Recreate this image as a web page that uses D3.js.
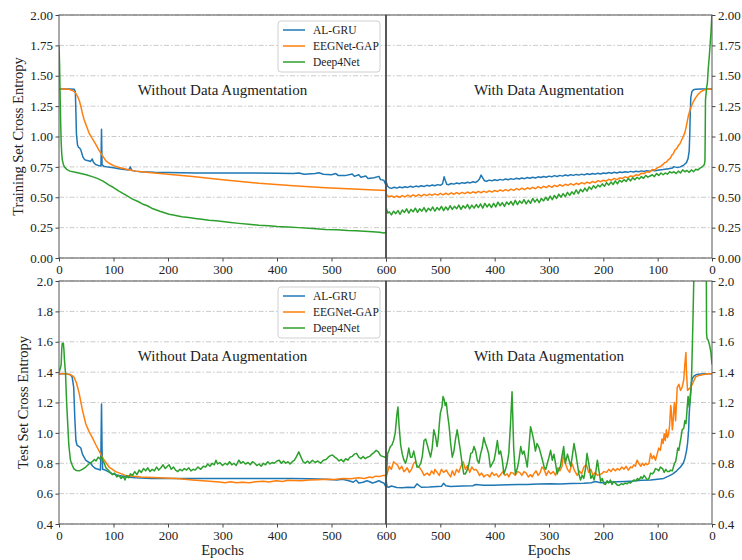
<!DOCTYPE html>
<html>
<head>
<meta charset="utf-8">
<script src="https://cdn.jsdelivr.net/npm/d3@7"></script>
<style>
  body { margin: 0; background: #fff; }
  svg text { font-family: "Liberation Serif", "Times New Roman", serif; fill: #222; }
</style>
</head>
<body>
<div id="chart"></div>
<script>
// series names and colours
const seriesNames = ["AL-GRU", "EEGNet-GAP", "Deep4Net"];
const seriesColors = ["#1f77b4", "#ff7f0e", "#2ca02c"];

// training loss, without augmentation  [epoch, value]
const trainNoAugGRU = [[0,1.39],[10,1.39],[20,1.39],[28,1.388],[30,1.37],[31,1.2],[32,1.02],[34,0.93],[36,0.91],[38,0.905],[40,0.89],[42,0.86],[44,0.83],[47,0.81],[50,0.805],[54,0.80],[58,0.795],[61,0.815],[63,0.79],[67,0.77],[72,0.762],[77,0.758],[78,1.06],[79,0.77],[82,0.755],[90,0.748],[100,0.742],[110,0.735],[120,0.728],[128,0.725],[131,0.75],[133,0.722],[140,0.715],[150,0.71],[175,0.705],[200,0.703],[250,0.70],[300,0.70],[350,0.699],[400,0.698],[430,0.695],[440,0.70],[450,0.69],[470,0.695],[477,0.702],[485,0.69],[500,0.686],[508,0.695],[512,0.68],[525,0.678],[538,0.692],[542,0.672],[550,0.685],[554,0.665],[563,0.675],[567,0.655],[578,0.66],[587,0.672],[590,0.645],[596,0.64],[600,0.60]];
const trainNoAugEEG = [[0,1.39],[10,1.39],[18,1.388],[22,1.383],[26,1.375],[30,1.36],[34,1.33],[37,1.30],[40,1.25],[43,1.19],[46,1.14],[50,1.09],[55,1.03],[60,0.99],[67,0.94],[73,0.89],[80,0.84],[86,0.80],[92,0.78],[100,0.76],[110,0.745],[120,0.735],[130,0.725],[141,0.715],[160,0.705],[200,0.69],[245,0.67],[300,0.645],[367,0.615],[430,0.595],[489,0.578],[550,0.565],[600,0.555]];
const trainNoAugD4 = [[0,1.75],[1,1.60],[2,1.35],[3,1.12],[4,0.95],[5,0.86],[6,0.81],[8,0.77],[10,0.75],[14,0.73],[20,0.715],[30,0.705],[40,0.695],[50,0.685],[61,0.67],[70,0.655],[80,0.635],[92,0.60],[100,0.58],[110,0.55],[122,0.52],[135,0.485],[145,0.465],[153,0.445],[162,0.43],[170,0.41],[185,0.385],[195,0.37],[202,0.36],[212,0.352],[225,0.34],[238,0.333],[250,0.325],[262,0.318],[275,0.31],[288,0.307],[300,0.30],[315,0.292],[330,0.285],[348,0.278],[367,0.27],[385,0.266],[400,0.26],[420,0.256],[440,0.25],[465,0.243],[489,0.235],[510,0.232],[530,0.226],[545,0.224],[560,0.22],[575,0.216],[588,0.212],[596,0.205],[600,0.21]];

// training loss, with augmentation
const trainAugGRU = [[0,1.39],[10,1.39],[20,1.39],[30,1.389],[34,1.385],[37,1.37],[39,1.32],[40,1.2],[41,1.0],[42,0.88],[44,0.82],[47,0.785],[52,0.765],[56,0.755],[59,0.75],[63,0.745],[67,0.748],[70,0.752],[73,0.74],[80,0.735],[90,0.728],[100,0.723],[105,0.718],[110,0.722],[115,0.715],[120,0.719],[125,0.712],[130,0.717],[135,0.71],[140,0.714],[145,0.708],[150,0.713],[155,0.705],[160,0.71],[165,0.703],[170,0.708],[175,0.70],[180,0.706],[185,0.698],[190,0.704],[195,0.695],[200,0.70],[205,0.692],[210,0.698],[215,0.69],[220,0.695],[225,0.687],[230,0.693],[235,0.684],[240,0.69],[245,0.682],[250,0.688],[255,0.68],[260,0.686],[265,0.677],[270,0.683],[275,0.674],[280,0.68],[285,0.671],[290,0.678],[295,0.668],[300,0.674],[305,0.665],[310,0.671],[315,0.662],[320,0.668],[325,0.659],[330,0.665],[335,0.656],[340,0.662],[345,0.653],[350,0.659],[355,0.65],[360,0.656],[365,0.647],[370,0.653],[375,0.644],[380,0.65],[385,0.641],[390,0.647],[395,0.638],[400,0.644],[405,0.635],[410,0.641],[415,0.632],[419,0.636],[422,0.66],[425,0.682],[428,0.65],[432,0.63],[435,0.622],[440,0.628],[445,0.618],[450,0.624],[455,0.615],[460,0.62],[465,0.611],[470,0.617],[475,0.608],[480,0.613],[485,0.603],[488,0.606],[491,0.64],[493,0.668],[496,0.61],[500,0.598],[505,0.604],[510,0.595],[515,0.601],[520,0.592],[525,0.598],[530,0.589],[535,0.595],[540,0.586],[545,0.592],[550,0.583],[555,0.59],[560,0.581],[565,0.587],[570,0.578],[575,0.584],[580,0.575],[585,0.582],[590,0.573],[594,0.578],[597,0.59],[600,0.63]];
const trainAugEEG = [[0,1.39],[8,1.388],[14,1.385],[20,1.37],[25,1.35],[30,1.32],[34,1.29],[38,1.25],[41,1.21],[44,1.16],[47,1.09],[50,1.03],[54,0.99],[59,0.94],[62,0.925],[65,0.90],[68,0.89],[71,0.86],[74,0.845],[77,0.82],[80,0.81],[84,0.79],[87,0.785],[90,0.77],[96,0.75],[100,0.745],[105,0.725],[110,0.728],[115,0.705],[120,0.71],[125,0.695],[130,0.698],[135,0.68],[140,0.685],[145,0.67],[150,0.675],[155,0.66],[160,0.668],[165,0.655],[170,0.66],[175,0.645],[180,0.655],[185,0.64],[190,0.648],[195,0.632],[200,0.64],[205,0.628],[210,0.637],[215,0.62],[220,0.63],[225,0.615],[230,0.625],[235,0.61],[240,0.62],[245,0.605],[250,0.615],[255,0.60],[260,0.612],[265,0.598],[270,0.607],[275,0.592],[280,0.603],[285,0.588],[290,0.598],[295,0.582],[300,0.595],[305,0.58],[310,0.59],[315,0.575],[320,0.587],[325,0.57],[330,0.582],[335,0.568],[340,0.578],[345,0.562],[350,0.575],[355,0.56],[360,0.572],[365,0.556],[370,0.567],[375,0.553],[380,0.563],[385,0.55],[390,0.56],[395,0.547],[400,0.556],[405,0.543],[410,0.553],[415,0.54],[420,0.55],[425,0.537],[430,0.548],[435,0.535],[440,0.545],[445,0.532],[450,0.543],[455,0.53],[460,0.54],[465,0.527],[470,0.538],[475,0.525],[480,0.536],[485,0.522],[490,0.533],[495,0.52],[500,0.532],[505,0.518],[510,0.528],[515,0.517],[520,0.526],[525,0.513],[530,0.524],[535,0.51],[540,0.522],[545,0.508],[550,0.52],[555,0.505],[560,0.517],[565,0.503],[570,0.514],[575,0.50],[580,0.512],[585,0.50],[590,0.51],[595,0.505],[600,0.525]];
const trainAugD4 = [[0,2.02],[2,1.85],[4,1.72],[5,1.66],[7,1.55],[8.5,1.44],[10,1.40],[12,1.30],[12.5,1.0],[13,0.80],[14,0.77],[18,0.75],[22,0.74],[26,0.725],[30,0.73],[34,0.71],[38,0.725],[42,0.705],[46,0.72],[50,0.71],[54,0.725],[58,0.70],[62,0.715],[66,0.695],[70,0.71],[74,0.70],[78,0.71],[82,0.69],[86,0.70],[90,0.685],[94,0.70],[98,0.68],[102,0.695],[106,0.67],[110,0.685],[114,0.675],[118,0.665],[122,0.68],[126,0.655],[130,0.67],[134,0.65],[138,0.665],[142,0.645],[146,0.66],[150,0.635],[154,0.655],[158,0.63],[162,0.645],[166,0.625],[170,0.64],[174,0.61],[178,0.635],[182,0.605],[186,0.625],[190,0.60],[194,0.62],[198,0.59],[202,0.61],[206,0.585],[210,0.60],[214,0.575],[218,0.595],[222,0.565],[226,0.585],[230,0.55],[234,0.575],[238,0.545],[242,0.565],[246,0.53],[250,0.56],[254,0.525],[258,0.545],[262,0.515],[266,0.54],[270,0.505],[274,0.53],[278,0.50],[282,0.525],[286,0.49],[290,0.515],[294,0.48],[298,0.51],[302,0.475],[306,0.50],[310,0.47],[314,0.49],[318,0.455],[322,0.485],[326,0.46],[330,0.49],[334,0.45],[338,0.475],[342,0.445],[346,0.48],[350,0.45],[354,0.47],[358,0.44],[362,0.475],[366,0.435],[370,0.465],[374,0.44],[378,0.46],[382,0.425],[386,0.455],[390,0.43],[394,0.46],[398,0.42],[402,0.45],[406,0.415],[410,0.445],[414,0.42],[418,0.45],[422,0.41],[426,0.445],[430,0.415],[434,0.44],[438,0.41],[442,0.435],[446,0.405],[450,0.44],[454,0.41],[458,0.43],[462,0.40],[466,0.435],[470,0.405],[474,0.425],[478,0.40],[482,0.43],[486,0.395],[490,0.42],[494,0.39],[498,0.425],[502,0.395],[506,0.415],[510,0.385],[514,0.42],[518,0.39],[522,0.41],[526,0.38],[530,0.415],[534,0.385],[538,0.405],[542,0.375],[546,0.41],[550,0.38],[554,0.40],[558,0.37],[562,0.405],[566,0.375],[570,0.395],[574,0.36],[578,0.39],[582,0.365],[586,0.385],[590,0.355],[594,0.38],[597,0.37],[600,0.42]];

// test loss, without augmentation
const testNoAugGRU = [[0,1.39],[10,1.39],[20,1.385],[24,1.37],[27,1.30],[29,1.10],[31,0.95],[33,0.92],[37,0.91],[40,0.90],[43,0.86],[46,0.84],[49,0.82],[53,0.81],[58,0.80],[62,0.78],[67,0.765],[72,0.76],[76,0.755],[77,0.90],[78,1.19],[79,0.90],[80,0.76],[85,0.755],[90,0.745],[98,0.73],[110,0.72],[125,0.71],[140,0.705],[170,0.70],[200,0.70],[250,0.70],[300,0.70],[350,0.70],[400,0.70],[428,0.70],[460,0.698],[489,0.695],[510,0.69],[520,0.695],[532,0.685],[540,0.675],[545,0.69],[550,0.67],[558,0.675],[565,0.685],[569,0.68],[575,0.67],[580,0.675],[587,0.685],[592,0.675],[596,0.67],[600,0.645]];
const testNoAugEEG = [[0,1.39],[10,1.39],[20,1.385],[27,1.37],[32,1.33],[37,1.26],[43,1.15],[49,1.06],[55,1.01],[61,0.97],[67,0.925],[73,0.885],[78,0.85],[83,0.82],[92,0.775],[104,0.745],[122,0.72],[150,0.71],[183,0.705],[215,0.70],[245,0.69],[270,0.683],[294,0.676],[305,0.672],[315,0.678],[325,0.672],[336,0.675],[350,0.672],[360,0.678],[375,0.682],[385,0.676],[398,0.685],[410,0.68],[420,0.688],[430,0.687],[445,0.685],[459,0.69],[475,0.692],[490,0.695],[505,0.693],[520,0.70],[535,0.698],[550,0.705],[560,0.70],[570,0.71],[575,0.705],[581,0.715],[588,0.712],[595,0.72],[600,0.72]];
const testNoAugD4 = [[0,1.40],[2,1.42],[4,1.45],[5,1.55],[6,1.59],[7,1.58],[8,1.59],[9,1.55],[10,1.48],[12,1.39],[14,1.20],[16,1.06],[18,0.92],[21,0.82],[24,0.79],[27,0.765],[32,0.752],[37,0.75],[43,0.76],[49,0.775],[55,0.795],[61,0.81],[65,0.825],[68,0.815],[72,0.84],[75,0.83],[78,0.845],[80,0.82],[83,0.80],[86,0.77],[90,0.755],[94,0.74],[98,0.725],[102,0.735],[106,0.71],[110,0.72],[114,0.70],[118,0.715],[121,0.69],[124,0.72],[128,0.705],[131,0.73],[135,0.72],[139,0.745],[143,0.725],[147,0.755],[151,0.74],[155,0.765],[159,0.75],[163,0.77],[167,0.745],[171,0.76],[175,0.75],[179,0.775],[183,0.755],[187,0.77],[191,0.79],[195,0.765],[199,0.78],[202,0.79],[206,0.76],[210,0.775],[214,0.755],[218,0.745],[222,0.76],[226,0.75],[230,0.765],[234,0.755],[238,0.77],[242,0.75],[246,0.76],[250,0.755],[255,0.775],[260,0.76],[265,0.78],[269,0.775],[273,0.795],[277,0.78],[281,0.80],[285,0.79],[288,0.82],[291,0.795],[295,0.805],[300,0.785],[305,0.80],[309,0.79],[313,0.81],[317,0.79],[321,0.80],[325,0.785],[330,0.82],[334,0.80],[338,0.81],[342,0.795],[347,0.805],[351,0.79],[355,0.81],[359,0.80],[363,0.785],[367,0.795],[371,0.78],[375,0.80],[379,0.79],[383,0.81],[387,0.795],[391,0.805],[395,0.80],[400,0.815],[404,0.82],[408,0.80],[412,0.815],[416,0.80],[420,0.81],[424,0.795],[428,0.81],[432,0.82],[436,0.845],[440,0.875],[444,0.84],[448,0.81],[452,0.80],[456,0.815],[460,0.80],[465,0.82],[470,0.805],[475,0.815],[480,0.80],[485,0.82],[490,0.825],[494,0.84],[498,0.85],[502,0.855],[506,0.84],[510,0.83],[514,0.815],[518,0.825],[522,0.81],[526,0.83],[530,0.82],[534,0.84],[538,0.845],[542,0.86],[546,0.865],[550,0.84],[554,0.83],[558,0.845],[562,0.83],[566,0.84],[570,0.845],[574,0.86],[578,0.87],[582,0.885],[586,0.875],[590,0.85],[594,0.845],[598,0.84],[600,0.84]];

// test loss, with augmentation
const testAugGRU = [[0,1.39],[10,1.39],[20,1.388],[28,1.385],[33,1.375],[36,1.36],[38,1.33],[40,1.24],[42,1.12],[43,1.02],[45,0.93],[47,0.88],[50,0.83],[53,0.80],[58,0.775],[65,0.75],[72,0.73],[80,0.715],[89,0.70],[100,0.695],[113,0.69],[130,0.688],[144,0.683],[160,0.68],[174,0.678],[190,0.675],[205,0.672],[215,0.68],[222,0.672],[236,0.668],[260,0.667],[280,0.664],[297,0.665],[320,0.663],[340,0.66],[358,0.66],[375,0.658],[390,0.657],[405,0.655],[420,0.655],[435,0.66],[440,0.652],[460,0.65],[481,0.647],[490,0.652],[494,0.668],[498,0.648],[520,0.643],[535,0.642],[543,0.664],[548,0.64],[560,0.642],[570,0.638],[580,0.64],[590,0.65],[595,0.642],[598,0.645],[600,0.69]];
const testAugEEG = [[0,1.39],[8,1.39],[15,1.385],[22,1.38],[30,1.37],[35,1.33],[39,1.30],[42,1.29],[45,1.28],[47,1.40],[48,1.53],[50,1.45],[52,1.35],[55,1.30],[58,1.28],[61,1.32],[64,1.30],[66,1.15],[67,1.08],[69,1.20],[70,1.17],[72,1.05],[73,1.02],[75,1.15],[76,1.18],[78,1.05],[80,0.99],[82,0.97],[84,1.02],[86,0.95],[88,0.995],[90,0.93],[92,0.96],[95,0.885],[98,0.90],[101,0.86],[104,0.82],[107,0.85],[110,0.83],[113,0.865],[116,0.80],[119,0.79],[122,0.80],[125,0.785],[128,0.80],[131,0.78],[134,0.795],[138,0.82],[141,0.78],[144,0.79],[147,0.77],[150,0.775],[154,0.755],[158,0.78],[162,0.76],[166,0.775],[170,0.755],[174,0.765],[178,0.75],[182,0.765],[186,0.745],[190,0.76],[194,0.74],[199,0.745],[203,0.73],[207,0.725],[211,0.72],[215,0.74],[219,0.72],[223,0.76],[227,0.74],[231,0.79],[236,0.775],[240,0.73],[244,0.75],[248,0.72],[252,0.745],[254,0.76],[258,0.80],[262,0.74],[266,0.76],[270,0.80],[273,0.865],[276,0.78],[280,0.75],[284,0.77],[288,0.72],[292,0.745],[297,0.73],[301,0.75],[305,0.72],[309,0.76],[313,0.775],[316,0.74],[320,0.72],[324,0.75],[328,0.73],[331,0.71],[334,0.725],[338,0.71],[342,0.735],[346,0.745],[350,0.72],[354,0.74],[358,0.745],[362,0.72],[366,0.735],[370,0.74],[374,0.71],[377,0.73],[381,0.72],[385,0.745],[389,0.725],[393,0.71],[397,0.73],[401,0.72],[405,0.74],[409,0.71],[413,0.725],[417,0.72],[420,0.71],[424,0.735],[428,0.72],[432,0.75],[435,0.76],[438,0.755],[442,0.775],[446,0.74],[450,0.785],[454,0.76],[458,0.81],[462,0.78],[466,0.74],[470,0.76],[474,0.72],[478,0.75],[481,0.71],[485,0.73],[489,0.755],[494,0.74],[498,0.76],[502,0.72],[506,0.74],[510,0.76],[512,0.73],[516,0.75],[520,0.72],[524,0.735],[530,0.72],[534,0.75],[538,0.77],[542,0.78],[546,0.81],[549,0.80],[553,0.76],[557,0.74],[561,0.77],[564,0.755],[567,0.745],[571,0.78],[575,0.76],[579,0.79],[583,0.80],[586,0.81],[590,0.76],[594,0.78],[598,0.73],[600,0.72]];
const testAugD4 = [[0,1.45],[2,1.53],[4,1.57],[7,1.61],[9,1.62],[10,1.65],[10.5,2.1],[33,2.1],[35,1.75],[37,1.45],[38,1.32],[40,1.22],[42,1.17],[44,1.24],[45,1.20],[47,1.10],[48,1.06],[50,1.08],[52,1.03],[55,1.02],[57,0.97],[59,0.93],[61,0.885],[63,0.90],[65,0.85],[67,0.81],[69,0.80],[71,0.775],[73,0.75],[76,0.755],[79,0.745],[82,0.745],[85,0.76],[88,0.74],[91,0.765],[95,0.775],[98,0.75],[101,0.76],[104,0.765],[107,0.74],[110,0.73],[113,0.735],[116,0.70],[119,0.69],[122,0.705],[125,0.72],[128,0.70],[131,0.71],[134,0.69],[137,0.70],[140,0.685],[144,0.69],[147,0.68],[150,0.67],[153,0.675],[156,0.665],[160,0.67],[163,0.66],[167,0.665],[171,0.655],[174,0.655],[178,0.67],[181,0.68],[184,0.66],[187,0.69],[190,0.67],[193,0.685],[196,0.66],[199,0.665],[202,0.70],[205,0.68],[208,0.75],[211,0.82],[214,0.74],[217,0.69],[220,0.72],[223,0.70],[226,0.78],[230,0.865],[233,0.76],[236,0.70],[239,0.72],[242,0.69],[245,0.73],[248,0.80],[251,0.87],[254,0.93],[257,0.85],[260,0.78],[263,0.82],[266,0.86],[270,0.80],[273,0.91],[276,0.85],[279,0.78],[282,0.76],[285,0.73],[288,0.80],[291,0.86],[294,0.82],[297,0.885],[300,0.84],[303,0.80],[306,0.76],[309,0.775],[312,0.82],[315,0.86],[318,0.90],[322,0.93],[325,0.88],[328,0.95],[331,1.00],[334,1.04],[337,0.90],[340,0.775],[343,0.83],[346,0.88],[349,0.86],[352,0.91],[355,0.83],[358,0.77],[362,0.73],[365,0.90],[368,1.27],[371,1.05],[374,0.865],[377,0.80],[380,0.76],[383,0.73],[386,0.82],[389,0.88],[392,0.86],[395,0.95],[398,0.88],[401,0.82],[404,0.80],[408,0.775],[411,0.86],[414,0.90],[417,0.93],[420,0.97],[423,0.90],[426,0.86],[429,0.80],[432,0.82],[435,0.88],[438,0.91],[441,0.87],[444,0.865],[447,0.80],[450,0.76],[454,0.73],[457,0.73],[460,0.80],[463,0.88],[466,0.95],[469,1.02],[472,0.96],[475,0.88],[478,0.84],[481,0.93],[484,1.05],[487,1.13],[489,1.20],[491,1.18],[493,1.22],[495,1.24],[497,1.17],[500,1.13],[502,1.05],[504,0.96],[506,0.91],[509,0.98],[512,1.02],[515,0.90],[518,0.84],[521,0.88],[524,0.92],[527,0.96],[530,0.95],[533,0.85],[536,0.80],[540,0.775],[543,0.775],[546,0.83],[549,0.88],[552,0.84],[555,0.84],[558,0.90],[561,0.84],[564,0.80],[567,0.82],[570,0.86],[573,0.92],[576,1.05],[578,1.17],[580,1.12],[583,1.00],[586,0.95],[589,0.92],[592,0.91],[595,0.88],[597,0.865],[598,0.80],[599,0.72],[600,0.69]];

// axis ticks
const epochTicks = [0, 100, 200, 300, 400, 500, 600];
const trainTicks = [0, 0.25, 0.5, 0.75, 1.0, 1.25, 1.5, 1.75, 2.0];
const testTicks = [0.4, 0.6, 0.8, 1.0, 1.2, 1.4, 1.6, 1.8, 2.0];

const width = 742, height = 560;
const x0 = 59, xMid = 386, x1 = 712;

const svg = d3.select("#chart").append("svg")
  .attr("width", width).attr("height", height);

const xLeft = d3.scaleLinear().domain([0, 600]).range([x0, xMid]);
const xRight = d3.scaleLinear().domain([600, 0]).range([xMid, x1]);

const rows = [
  { top: 15, bottom: 258, domain: [0, 2], ticks: trainTicks, fmt: d3.format(".2f"),
    label: "Training Set Cross Entropy", labelX: 18,
    left: [trainNoAugGRU, trainNoAugEEG, trainNoAugD4],
    right: [trainAugGRU, trainAugEEG, trainAugD4], epochs: false },
  { top: 281, bottom: 524, domain: [0.4, 2], ticks: testTicks, fmt: d3.format(".1f"),
    label: "Test Set Cross Entropy", labelX: 23,
    left: [testNoAugGRU, testNoAugEEG, testNoAugD4],
    right: [testAugGRU, testAugEEG, testAugD4], epochs: true }
];

rows.forEach((row, ri) => {
  const y = d3.scaleLinear().domain(row.domain).range([row.bottom, row.top]);

  [["left", xLeft, row.left], ["right", xRight, row.right]].forEach(([side, x, data]) => {
    const g = svg.append("g");
    const xa = Math.min(...x.range()), xb = Math.max(...x.range());

    // grid
    g.selectAll(".grid").data(row.ticks).enter().append("line")
      .attr("x1", xa).attr("x2", xb)
      .attr("y1", d => y(d)).attr("y2", d => y(d))
      .attr("stroke", "#c4c4c4").attr("stroke-width", 0.9)
      .attr("stroke-dasharray", "5,2,1.5,2");

    // clip
    const clipId = `clip-${ri}-${side}`;
    svg.append("clipPath").attr("id", clipId).append("rect")
      .attr("x", xa).attr("y", row.top).attr("width", xb - xa).attr("height", row.bottom - row.top);

    const line = d3.line().x(d => x(d[0])).y(d => y(d[1]));
    g.append("g").attr("clip-path", `url(#${clipId})`)
      .selectAll("path").data(data).enter().append("path")
      .attr("d", line)
      .attr("fill", "none")
      .attr("stroke", (d, i) => seriesColors[i])
      .attr("stroke-width", 1.5)
      .attr("stroke-linejoin", "round");

    // x axis
    const xAxis = d3.axisBottom(x).tickValues(epochTicks).tickSize(3.5).tickPadding(3)
      .tickFormat(d => (side === "right" && d === 600) ? "" : d);
    const xg = g.append("g").attr("transform", `translate(0,${row.bottom})`).call(xAxis);

    // y axis
    const yAxis = (side === "left" ? d3.axisLeft(y) : d3.axisRight(y))
      .tickValues(row.ticks).tickFormat(row.fmt).tickSize(3.5).tickPadding(2.5);
    const yg = g.append("g").attr("transform", `translate(${side === "left" ? xa : xb},0)`).call(yAxis);

    [xg, yg].forEach(a => {
      a.attr("font-family", null);
      a.select(".domain").remove();
      a.selectAll(".tick line").attr("stroke", "#444");
      a.selectAll("text").attr("font-size", 13).attr("fill", "#222")
        .style("font-family", "'Liberation Serif', serif");
    });

    // frame
    g.append("rect").attr("x", xa).attr("y", row.top)
      .attr("width", xb - xa).attr("height", row.bottom - row.top)
      .attr("fill", "none").attr("stroke", "#555").attr("stroke-width", 1);

    // panel title
    g.append("text")
      .attr("x", (xa + xb) / 2)
      .attr("y", row.top + 80)
      .attr("text-anchor", "middle").attr("font-size", 15)
      .text(side === "left" ? "Without Data Augmentation" : "With Data Augmentation");

    if (row.epochs) {
      g.append("text").attr("x", (xa + xb) / 2).attr("y", 555)
        .attr("text-anchor", "middle").attr("font-size", 14.5).text("Epochs");
    }

    // legend
    if (side === "left") {
      const lg = g.append("g").attr("transform", `translate(278,${row.top + 6})`);
      lg.append("rect").attr("width", 102).attr("height", 51).attr("rx", 3)
        .attr("fill", "white").attr("fill-opacity", 0.85)
        .attr("stroke", "#d0d0d0").attr("stroke-width", 1);
      seriesNames.forEach((name, i) => {
        const ly = 9 + i * 16;
        lg.append("line").attr("x1", 5).attr("x2", 27).attr("y1", ly).attr("y2", ly)
          .attr("stroke", seriesColors[i]).attr("stroke-width", 1.5);
        lg.append("text").attr("x", 35).attr("y", ly + 4).attr("font-size", 11.5).text(name);
      });
    }
  });

  // divider
  svg.append("line").attr("x1", xMid).attr("x2", xMid).attr("y1", row.top).attr("y2", row.bottom)
    .attr("stroke", "#444").attr("stroke-width", 1.3);

  // y label
  svg.append("text")
    .attr("transform", `translate(${row.labelX},${(row.top + row.bottom) / 2}) rotate(-90)`)
    .attr("text-anchor", "middle").attr("dominant-baseline", "central")
    .attr("font-size", 14.5).text(row.label);
});
</script>
</body>
</html>
